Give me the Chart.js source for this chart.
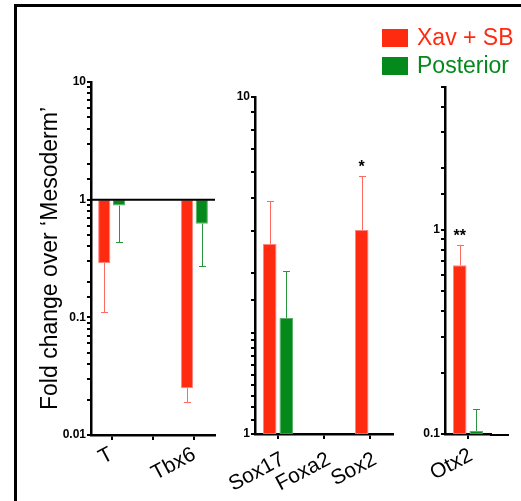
<!DOCTYPE html>
<html>
<head>
<meta charset="utf-8">
<script src="https://cdn.jsdelivr.net/npm/chart.js@4.4.0/dist/chart.umd.min.js"></script>
<style>
  body { margin: 0; background: #fff; width: 521px; height: 501px; overflow: hidden; position: relative; font-family: "Liberation Sans", Arial, sans-serif; }
  .frame { position: absolute; left: 14px; top: 4px; right: -10px; bottom: -10px; border-left: 3px solid #000; border-top: 3px solid #000; }
  canvas { position: absolute; top: 0; }
  #legend { position: absolute; left: 382px; top: 26px; }
  #legend .item { position: relative; height: 28px; }
  #legend .box { position: absolute; left: 0; top: 3px; width: 26px; height: 18px; }
  #legend .txt { position: absolute; left: 35px; top: 0; font-size: 23px; line-height: 23px; white-space: nowrap; }
</style>
</head>
<body>
<div class="frame"></div>
<canvas id="meso" width="230" height="501" style="left:0px;width:230px;height:501px"></canvas>
<canvas id="endo" width="200" height="501" style="left:200px;width:200px;height:501px"></canvas>
<canvas id="otx" width="121" height="501" style="left:400px;width:121px;height:501px"></canvas>
<div id="legend"></div>
<script>
const seriesNames = ['Xav + SB', 'Posterior']
const seriesColors = ['#ff2b10', '#038a1a']
const errorColors = ['rgb(255,105,95)', 'rgb(40,150,60)']

// mesoderm panel (bars hang down from 1)
const mesoLabels = ['T', '', 'Tbx6']
const mesoXav = [0.29, null, 0.025]
const mesoXavErr = [0.11, null, 0.019]
const mesoPost = [0.89, null, 0.625]
const mesoPostErr = [0.44, null, 0.275]
const mesoTicks = ['10', '1', '0.1', '0.01']

// endoderm panel
const endoLabels = ['Sox17', 'Foxa2', 'Sox2']
const endoXav = [3.66, null, 4.03]
const endoXavErr = [4.91, null, 5.83]
const endoPost = [2.21, null, null]
const endoPostErr = [3.05, null, null]
const endoStars = ['', '', '*']
const endoTicks = ['10', '1']

// Otx2 panel
const otxLabels = ['Otx2']
const otxXav = [0.67]
const otxXavErr = [0.845]
const otxPost = [0.1035]
const otxPostErr = [0.133]
const otxStars = ['**']
const otxTicks = ['1', '0.1']

const legend = document.getElementById('legend')
seriesNames.forEach((name, i) => {
  const item = document.createElement('div')
  item.className = 'item'
  item.innerHTML = `<span class="box" style="background:${seriesColors[i]}"></span><span class="txt" style="color:${seriesColors[i]}">${name}</span>`
  legend.appendChild(item)
})

const toBars = (vals, base) => vals.map(v => v == null ? null : [Math.min(v, base), Math.max(v, base)])

const makeSets = (xav, xavErr, post, postErr, base) => [
  { label: seriesNames[0], data: toBars(xav, base), values: xav, errors: xavErr, errorColor: errorColors[0],
    backgroundColor: seriesColors[0], borderColor: 'rgba(255,120,110,0.9)', borderWidth: 1, borderSkipped: false },
  { label: seriesNames[1], data: toBars(post, base), values: post, errors: postErr, errorColor: errorColors[1],
    backgroundColor: seriesColors[1], borderColor: 'rgba(70,165,85,0.9)', borderWidth: 1, borderSkipped: false }
]

const errorBars = {
  id: 'errorBars',
  afterDatasetsDraw(chart) {
    const { ctx } = chart
    const y = chart.scales.y
    chart.data.datasets.forEach((ds, di) => {
      const meta = chart.getDatasetMeta(di)
      meta.data.forEach((bar, i) => {
        const v = ds.values[i], e = ds.errors[i]
        if (v == null || e == null) return
        const x = Math.round(bar.x) + 0.5
        const y0 = y.getPixelForValue(v)
        const y1 = Math.round(y.getPixelForValue(e)) + 0.5
        ctx.save()
        ctx.strokeStyle = ds.errorColor
        ctx.lineWidth = 1
        ctx.beginPath()
        ctx.moveTo(x, y0)
        ctx.lineTo(x, y1)
        ctx.moveTo(x - 3.5, y1)
        ctx.lineTo(x + 3.5, y1)
        ctx.stroke()
        ctx.restore()
      })
    })
    const stars = chart.options.plugins.errorBars && chart.options.plugins.errorBars.stars
    if (stars) {
      const ds = chart.data.datasets[0]
      const meta = chart.getDatasetMeta(0)
      ctx.save()
      ctx.fillStyle = '#000'
      ctx.font = 'bold 16px "Liberation Sans", Arial, sans-serif'
      ctx.textAlign = 'center'
      ctx.textBaseline = 'alphabetic'
      stars.forEach((s, i) => {
        if (!s || ds.errors[i] == null) return
        ctx.fillText(s, meta.data[i].x, y.getPixelForValue(ds.errors[i]) - 4)
      })
      ctx.restore()
    }
  }
}

const refLine = {
  id: 'refLine',
  afterDatasetsDraw(chart, args, opts) {
    if (opts.value == null) return
    const { ctx, chartArea } = chart
    const yy = chart.scales.y.getPixelForValue(opts.value)
    ctx.save()
    ctx.strokeStyle = '#000'
    ctx.lineWidth = 2
    ctx.beginPath()
    ctx.moveTo(chartArea.left, yy)
    ctx.lineTo(chartArea.right, yy)
    ctx.stroke()
    ctx.restore()
  }
}

const axisExtend = {
  id: 'axisExtend',
  afterDraw(chart, args, opts) {
    if (!opts.extra) return
    const { ctx, chartArea } = chart
    ctx.save()
    ctx.strokeStyle = '#000'
    ctx.lineWidth = 2
    ctx.beginPath()
    ctx.moveTo(chartArea.right - 1, chartArea.bottom + 1)
    ctx.lineTo(chartArea.right + opts.extra, chartArea.bottom + 1)
    ctx.stroke()
    ctx.restore()
  }
}

const tickFont = { family: '"Liberation Sans", Arial, sans-serif', size: 12, weight: 'bold' }
const labelFont = { family: '"Liberation Sans", Arial, sans-serif', size: 21 }

const makeChart = (id, labels, datasets, cfg) => new Chart(document.getElementById(id), {
  type: 'bar',
  data: { labels, datasets },
  options: {
    responsive: false,
    animation: false,
    events: [],
    categoryPercentage: 0.72,
    barPercentage: 0.82,
    layout: { padding: { top: cfg.top, right: cfg.right, bottom: 0, left: 0 } },
    plugins: {
      legend: { display: false },
      tooltip: { enabled: false },
      errorBars: { stars: cfg.stars },
      refLine: { value: cfg.refLine },
      axisExtend: { extra: cfg.extend }
    },
    scales: {
      x: {
        afterFit: s => { s.height = cfg.xHeight },
        grid: { display: true, drawOnChartArea: false, drawTicks: true, tickLength: 5, offset: false, color: '#000', lineWidth: 2 },
        border: { display: true, color: '#000', width: 2.5 },
        ticks: { color: '#000', font: labelFont, minRotation: 28, maxRotation: 28, autoSkip: false,
          padding: cfg.labelPad, labelOffset: cfg.labelShift }
      },
      y: {
        type: 'logarithmic',
        min: cfg.min,
        max: cfg.max,
        afterFit: s => { s.width = cfg.yWidth },
        grid: { display: true, drawOnChartArea: false, drawTicks: true, tickLength: 4, color: '#000', lineWidth: 2 },
        border: { display: true, color: '#000', width: 2.5 },
        ticks: {
          color: '#000', font: tickFont, autoSkip: false, padding: 1,
          callback: v => cfg.ticks.includes(String(v)) ? String(v) : ''
        },
        title: cfg.title ? {
          display: true, text: cfg.title, color: '#000',
          font: { family: '"Liberation Sans", Arial, sans-serif', size: 23 },
          padding: { top: 37, bottom: 0 }
        } : { display: false }
      }
    }
  },
  plugins: [errorBars, refLine, axisExtend]
})

makeChart('meso', mesoLabels, makeSets(mesoXav, mesoXavErr, mesoPost, mesoPostErr, 1), {
  top: 82, right: 15, xHeight: 66, yWidth: 91, min: 0.01, max: 10, ticks: mesoTicks,
  title: 'Fold change over \u2018Mesoderm\u2019', refLine: 1, labelPad: 2, labelShift: 0
})

makeChart('endo', endoLabels, makeSets(endoXav, endoXavErr, endoPost, endoPostErr, 1), {
  top: 97, right: 7, xHeight: 67, yWidth: 55, min: 1, max: 10, ticks: endoTicks, stars: endoStars,
  labelPad: 8, labelShift: 5
})

makeChart('otx', otxLabels, makeSets(otxXav, otxXavErr, otxPost, otxPostErr, 0.1), {
  top: 87, right: 30, xHeight: 67, yWidth: 45, min: 0.1, max: 5, ticks: otxTicks, stars: otxStars, extend: 18,
  labelPad: 4, labelShift: 3
})
</script>
</body>
</html>
